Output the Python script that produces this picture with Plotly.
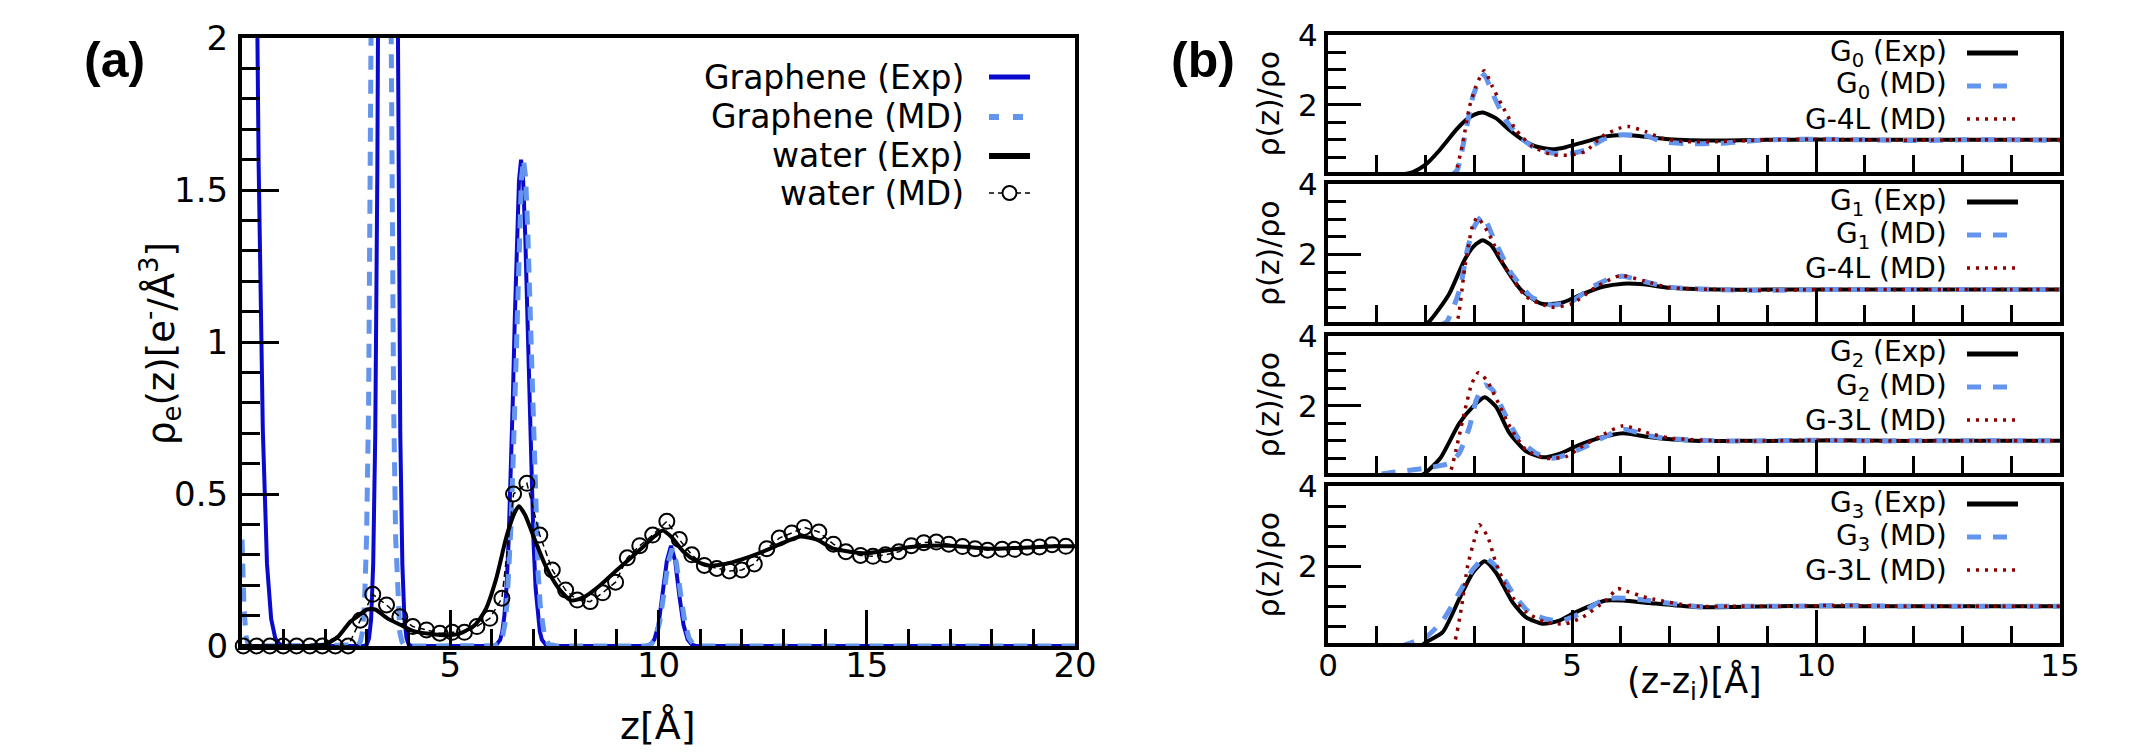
import plotly.graph_objects as go

W, H = 2129, 754
FONT = "DejaVu Sans"

# ---------------- Panel (a) data ----------------
gexp_z = [0.0, 0.1, 0.2, 0.3, 0.4, 0.5, 0.6, 0.7, 0.8, 0.9, 1.0, 1.1,
          2.9, 2.95, 3.0, 3.05, 3.1, 3.15, 3.2, 3.25, 3.3, 3.35, 3.4, 3.45, 3.5,
          3.55, 3.6, 3.65, 3.7, 3.75, 3.8, 3.85, 3.9, 3.95, 4.0, 4.05, 4.1,
          6.0, 6.1, 6.2, 6.25, 6.3, 6.35, 6.4, 6.45, 6.5, 6.55, 6.6, 6.65, 6.7,
          6.75, 6.8, 6.85, 6.9, 6.95, 7.0, 7.05, 7.1, 7.15, 7.2, 7.3, 7.4,
          9.7, 9.8, 9.9, 10.0, 10.1, 10.2, 10.3, 10.4, 10.5, 10.6, 10.7, 10.8, 10.9, 20.0]
gexp_y = [7.84, 6.68, 4.85, 3.0, 1.58, 0.71, 0.27, 0.089, 0.025, 0.006, 0.001, 0.0,
          0.0, 0.0013, 0.006, 0.025, 0.088, 0.27, 0.70, 1.57, 3.06, 5.14, 7.44, 9.29, 10.0,
          9.29, 7.44, 5.14, 3.06, 1.57, 0.70, 0.27, 0.088, 0.025, 0.006, 0.0013, 0.0,
          0.0, 0.003, 0.021, 0.048, 0.10, 0.19, 0.34, 0.54, 0.80, 1.08, 1.35, 1.53, 1.6,
          1.53, 1.35, 1.08, 0.80, 0.54, 0.34, 0.19, 0.10, 0.048, 0.021, 0.003, 0.0,
          0.0, 0.0044, 0.021, 0.07, 0.165, 0.28, 0.33, 0.28, 0.165, 0.07, 0.021, 0.0044, 0.0, 0.0]

gmd_z = [0.0, 0.05, 0.1, 0.15, 0.2,
         2.74, 2.79, 2.84, 2.89, 2.94, 2.99, 3.04, 3.09, 3.14, 3.19, 3.24, 3.29, 3.34,
         3.39, 3.44, 3.49, 3.54, 3.59, 3.64, 3.69, 3.74, 3.79, 3.84, 3.89, 3.94, 4.0,
         6.06, 6.16, 6.26, 6.31, 6.36, 6.41, 6.46, 6.51, 6.56, 6.61, 6.66, 6.71, 6.76,
         6.81, 6.86, 6.91, 6.96, 7.01, 7.06, 7.11, 7.16, 7.21, 7.26, 7.36, 7.46, 7.55,
         9.73, 9.83, 9.93, 10.03, 10.13, 10.23, 10.33, 10.43, 10.53, 10.63, 10.73, 10.83, 10.93, 20.0]
gmd_y = [0.35, 0.12, 0.03, 0.005, 0.0,
         0.0008, 0.0035, 0.0136, 0.045, 0.135, 0.352, 0.80, 1.62, 2.88, 4.5, 6.2, 7.5, 8.0,
         7.5, 6.2, 4.5, 2.88, 1.62, 0.80, 0.352, 0.135, 0.045, 0.0136, 0.0035, 0.0008, 0.0,
         0.001, 0.006, 0.034, 0.070, 0.135, 0.24, 0.40, 0.61, 0.86, 1.13, 1.37, 1.54, 1.6,
         1.54, 1.37, 1.13, 0.86, 0.61, 0.40, 0.24, 0.135, 0.070, 0.034, 0.006, 0.001, 0.0,
         0.0004, 0.0067, 0.027, 0.080, 0.172, 0.274, 0.32, 0.274, 0.172, 0.080, 0.027, 0.0067, 0.0004, 0.0]

wexp_z = [0.0, 1.5, 2.0, 2.3, 2.6, 2.8, 3.0, 3.2, 3.5, 3.8, 4.1, 4.5, 5.0, 5.3, 5.6, 5.85,
          6.1, 6.35, 6.55, 6.65, 6.8, 7.0, 7.3, 7.6, 7.9, 8.2, 8.6, 9.0, 9.5, 9.9, 10.1,
          10.3, 10.6, 10.9, 11.2, 11.6, 12.0, 12.5, 13.0, 13.4, 13.8, 14.2, 14.6, 15.0,
          15.5, 16.0, 16.5, 17.0, 17.5, 18.0, 18.5, 19.0, 19.5, 20.0]
wexp_y = [0.0, 0.0, 0.005, 0.03, 0.08, 0.10, 0.12, 0.12, 0.09, 0.07, 0.05, 0.04, 0.035, 0.045, 0.07, 0.12,
          0.22, 0.36, 0.44, 0.46, 0.43, 0.36, 0.26, 0.19, 0.15, 0.16, 0.20, 0.25, 0.31, 0.36, 0.38,
          0.36, 0.31, 0.28, 0.265, 0.27, 0.285, 0.31, 0.34, 0.36, 0.35, 0.32, 0.31, 0.305,
          0.315, 0.325, 0.33, 0.33, 0.325, 0.32, 0.322, 0.325, 0.328, 0.328]

wmd_z = [0.03, 0.35, 0.67, 0.99, 1.31, 1.63, 1.93, 2.24, 2.55, 2.84, 3.14, 3.47, 3.79, 4.10,
         4.43, 4.75, 5.05, 5.34, 5.64, 5.95, 6.24, 6.52, 6.84, 7.15, 7.45, 7.77, 8.05, 8.36,
         8.66, 8.97, 9.25, 9.55, 9.86, 10.2, 10.5, 10.8, 11.1, 11.4, 11.7, 12.0, 12.3, 12.6,
         12.9, 13.2, 13.5, 13.85, 14.2, 14.5, 14.85, 15.15, 15.45, 15.77, 16.07, 16.37,
         16.67, 16.97, 17.3, 17.6, 17.9, 18.25, 18.55, 18.85, 19.15, 19.45, 19.78]
wmd_y = [0, 0, 0, 0, 0, 0, 0, 0, 0, 0.085, 0.17, 0.135, 0.096, 0.064,
         0.053, 0.042, 0.045, 0.045, 0.064, 0.091, 0.157, 0.50, 0.535, 0.365, 0.25, 0.184, 0.151, 0.146,
         0.175, 0.21, 0.29, 0.33, 0.365, 0.41, 0.35, 0.30, 0.265, 0.255, 0.247, 0.25, 0.27, 0.32,
         0.355, 0.372, 0.39, 0.375, 0.335, 0.31, 0.298, 0.295, 0.30, 0.31, 0.33, 0.34,
         0.342, 0.335, 0.327, 0.32, 0.315, 0.318, 0.318, 0.325, 0.326, 0.333, 0.328]

# ---------------- Panel (b) data ----------------
g0exp_z = [1.5, 1.74, 2.0, 2.29, 2.63, 2.83, 3.0, 3.17, 3.44, 3.71, 3.99, 4.26, 4.6, 4.87, 5.28, 5.69,
           6.03, 6.37, 6.98, 8.0, 9.0, 10.0, 11.0, 12.0, 13.0, 14.0, 15.0]
g0exp_y = [0.0, 0.08, 0.29, 0.71, 1.29, 1.57, 1.72, 1.78, 1.62, 1.29, 1.0, 0.81, 0.73, 0.79, 0.95, 1.1,
           1.14, 1.11, 1.02, 0.98, 1.0, 1.01, 1.0, 1.0, 1.0, 1.0, 1.0]
g0md_z = [2.55, 2.65, 2.83, 2.97, 3.1, 3.2, 3.37, 3.64, 3.92, 4.19, 4.6, 4.94, 5.28, 5.62, 5.96,
          6.23, 6.57, 6.84, 7.32, 8.0, 8.5, 9.0, 10.0, 11.0, 12.0, 13.0, 14.0, 15.0]
g0md_y = [0.0, 0.14, 1.29, 2.24, 2.71, 2.86, 2.33, 1.57, 1.10, 0.81, 0.62, 0.60, 0.71, 1.0, 1.14,
          1.14, 1.1, 0.95, 0.89, 0.9, 0.95, 1.0, 1.02, 1.0, 0.98, 1.0, 1.0, 0.98]
g04l_z = [2.55, 2.62, 2.76, 2.9, 3.03, 3.2, 3.37, 3.58, 3.85, 4.19, 4.6, 5.0, 5.28, 5.62, 5.96,
          6.16, 6.5, 6.84, 7.3, 8.0, 9.0, 10.0, 11.0, 12.0, 13.0, 14.0, 15.0]
g04l_y = [0.0, 0.1, 0.9, 1.95, 2.52, 2.98, 2.52, 1.95, 1.29, 0.81, 0.57, 0.57, 0.67, 1.1, 1.33,
          1.38, 1.24, 1.05, 0.95, 0.95, 1.0, 1.02, 1.0, 0.99, 1.0, 1.0, 1.0]

g1exp_z = [1.9, 2.06, 2.48, 2.8, 3.0, 3.17, 3.35, 3.53, 3.95, 4.37, 4.79, 5.21, 5.63, 6.05, 6.47,
           7.0, 8.0, 9.0, 10.0, 11.0, 12.0, 13.0, 14.0, 15.0]
g1exp_y = [0.0, 0.08, 0.87, 1.85, 2.25, 2.4, 2.25, 1.85, 1.0, 0.6, 0.63, 0.87, 1.08, 1.17, 1.15,
           1.05, 1.0, 1.0, 1.0, 1.0, 1.0, 1.0, 1.0, 1.0]
g1md_z = [2.3, 2.43, 2.7, 2.85, 3.0, 3.17, 3.38, 3.74, 4.16, 4.58, 5.0, 5.42, 5.84, 6.05, 6.57,
          7.0, 8.0, 9.0, 10.0, 11.0, 12.0, 13.0, 14.0, 15.0]
g1md_y = [0.0, 0.08, 1.0, 2.1, 2.8, 3.1, 2.5, 1.5, 0.8, 0.56, 0.67, 1.08, 1.35, 1.38, 1.2,
          1.07, 1.0, 0.98, 1.0, 1.0, 1.0, 1.0, 1.0, 1.0]
g14l_z = [2.55, 2.64, 2.8, 2.96, 3.06, 3.27, 3.64, 4.06, 4.58, 5.0, 5.52, 5.99, 6.47, 7.0, 8.0,
          9.0, 10.0, 11.0, 12.0, 13.0, 14.0, 15.0]
g14l_y = [0.0, 0.08, 1.6, 2.8, 3.05, 2.65, 1.6, 0.8, 0.5, 0.6, 1.1, 1.4, 1.25, 1.06, 1.0,
          0.98, 1.0, 1.0, 1.0, 1.0, 1.0, 1.0]

g2exp_z = [1.9, 2.01, 2.3, 2.69, 2.97, 3.21, 3.44, 3.72, 4.06, 4.4, 4.74, 5.08, 5.56, 6.05, 6.57,
           7.5, 8.5, 9.5, 10.5, 11.5, 12.5, 13.5, 14.5, 15.0]
g2exp_y = [0.0, 0.1, 0.5, 1.5, 1.98, 2.25, 1.98, 1.22, 0.7, 0.53, 0.63, 0.84, 1.08, 1.22, 1.11,
           1.0, 1.0, 1.0, 1.02, 1.0, 1.0, 1.0, 1.0, 1.0]
g2md_z = [1.1, 1.33, 2.01, 2.49, 2.69, 2.9, 3.04, 3.21, 3.37, 3.65, 3.92, 4.26, 4.6, 4.94, 5.28,
          5.62, 6.05, 6.57, 7.0, 8.0, 9.0, 10.0, 11.0, 12.0, 13.0, 14.0, 15.0]
g2md_y = [0.05, 0.1, 0.22, 0.36, 0.65, 1.4, 2.17, 2.6, 2.46, 1.7, 1.03, 0.65, 0.5, 0.63, 0.84,
          1.08, 1.33, 1.15, 1.06, 1.0, 1.0, 1.02, 1.0, 1.0, 1.0, 1.0, 1.0]
g23l_z = [2.4, 2.5, 2.67, 2.81, 2.95, 3.08, 3.25, 3.46, 3.73, 4.06, 4.47, 4.88, 5.15, 5.56, 6.05,
          6.57, 7.0, 8.0, 9.0, 10.0, 11.0, 12.0, 13.0, 14.0, 15.0]
g23l_y = [0.0, 0.1, 1.03, 1.9, 2.65, 2.95, 2.74, 2.17, 1.4, 0.74, 0.5, 0.55, 0.79, 1.12, 1.43,
          1.22, 1.08, 1.0, 1.0, 1.02, 1.0, 1.0, 1.0, 1.0, 1.0]

g3exp_z = [1.9, 2.01, 2.35, 2.69, 2.97, 3.21, 3.44, 3.78, 4.06, 4.4, 4.74, 5.08, 5.69, 6.05, 6.57,
           7.5, 8.0, 9.1, 10.0, 11.0, 12.0, 13.0, 14.0, 15.0]
g3exp_y = [0.0, 0.1, 0.35, 1.18, 1.84, 2.12, 1.84, 1.1, 0.72, 0.56, 0.64, 0.85, 1.14, 1.14, 1.08,
           0.98, 0.97, 1.0, 1.0, 1.0, 1.0, 1.0, 1.0, 1.0]
g3md_z = [1.5, 1.74, 2.01, 2.35, 2.69, 2.97, 3.21, 3.44, 3.78, 4.12, 4.46, 4.8, 5.14, 5.69, 6.05,
          6.57, 7.5, 8.5, 9.5, 10.5, 11.5, 12.5, 13.5, 14.5, 15.0]
g3md_y = [0.0, 0.1, 0.23, 0.64, 1.34, 1.92, 2.2, 2.0, 1.34, 0.85, 0.68, 0.64, 0.8, 1.18, 1.2,
          1.14, 1.0, 1.0, 1.0, 1.02, 1.0, 1.0, 1.0, 1.0, 1.0]
g33l_z = [2.5, 2.59, 2.73, 2.86, 3.0, 3.1, 3.27, 3.44, 3.71, 4.06, 4.46, 4.87, 5.21, 5.69, 5.94,
          6.05, 6.57, 7.5, 8.5, 9.5, 10.5, 11.5, 12.5, 13.5, 14.5, 15.0]
g33l_y = [0.0, 0.1, 0.93, 2.0, 2.66, 3.03, 2.74, 2.08, 1.34, 0.85, 0.6, 0.56, 0.72, 1.14, 1.44,
          1.4, 1.2, 1.0, 1.0, 1.0, 1.02, 1.0, 1.0, 1.0, 1.0, 1.0]

legend_a = ["Graphene (Exp)", "Graphene (MD)", "water (Exp)", "water (MD)"]
legend_b = [["G<sub>0</sub> (Exp)", "G<sub>0</sub> (MD)", "G-4L (MD)"],
            ["G<sub>1</sub> (Exp)", "G<sub>1</sub> (MD)", "G-4L (MD)"],
            ["G<sub>2</sub> (Exp)", "G<sub>2</sub> (MD)", "G-3L (MD)"],
            ["G<sub>3</sub> (Exp)", "G<sub>3</sub> (MD)", "G-3L (MD)"]]
panels_b = [(g0exp_z, g0exp_y, g0md_z, g0md_y, g04l_z, g04l_y),
            (g1exp_z, g1exp_y, g1md_z, g1md_y, g14l_z, g14l_y),
            (g2exp_z, g2exp_y, g2md_z, g2md_y, g23l_z, g23l_y),
            (g3exp_z, g3exp_y, g3md_z, g3md_y, g33l_z, g33l_y)]

# ---------------- styles ----------------
BLUE = "#0a0acd"
LBLUE = "#6495ed"
DRED = "#8b0000"
BLACK = "#000000"


def px(x):
    return x / W


def py(y):
    return 1 - y / H


fig = go.Figure()

# Panel (a) traces
fig.add_trace(go.Scatter(x=gexp_z, y=gexp_y, mode="lines", line=dict(color=BLUE, width=4),
                         xaxis="x", yaxis="y", showlegend=False))
fig.add_trace(go.Scatter(x=gmd_z, y=gmd_y, mode="lines",
                         line=dict(color=LBLUE, width=5, dash="14px,10px"),
                         xaxis="x", yaxis="y", showlegend=False))
fig.add_trace(go.Scatter(x=wexp_z, y=wexp_y, mode="lines", line=dict(color=BLACK, width=4, shape="spline", smoothing=0.6),
                         xaxis="x", yaxis="y", showlegend=False))
fig.add_trace(go.Scatter(x=wmd_z, y=wmd_y, mode="lines+markers",
                         line=dict(color=BLACK, width=1.5, dash="6px,4px"),
                         marker=dict(symbol="circle-open", size=15, color=BLACK, line=dict(width=2, color=BLACK)),
                         cliponaxis=False, xaxis="x", yaxis="y", showlegend=False))

# Panel (b) geometry (pixel rows of each sub panel)
b_rows = [(35, 172), (184, 322), (336, 473), (486, 643)]
bx0, bx1 = 1328, 2060

for i, (ez, ey, mz, my, lz, ly) in enumerate(panels_b):
    xa = "x%d" % (i + 2)
    ya = "y%d" % (i + 2)
    fig.add_trace(go.Scatter(x=ez, y=ey, mode="lines",
                             line=dict(color=BLACK, width=4, shape="spline", smoothing=0.6),
                             xaxis=xa, yaxis=ya, showlegend=False))
    fig.add_trace(go.Scatter(x=mz, y=my, mode="lines",
                             line=dict(color=LBLUE, width=5, dash="14px,12px", shape="spline", smoothing=0.6),
                             xaxis=xa, yaxis=ya, showlegend=False))
    fig.add_trace(go.Scatter(x=lz, y=ly, mode="lines",
                             line=dict(color=DRED, width=3.5, dash="3px,6px", shape="spline", smoothing=0.6),
                             xaxis=xa, yaxis=ya, showlegend=False))

axis_common = dict(showline=True, linecolor=BLACK, linewidth=4, mirror=True, showgrid=False,
                   zeroline=False, ticks="inside", tickcolor=BLACK, tickwidth=3, automargin=False)

layout = dict(
    width=W, height=H, margin=dict(l=0, r=0, t=0, b=0, pad=0, autoexpand=False),
    paper_bgcolor="white", plot_bgcolor="white",
    font=dict(family=FONT, color=BLACK),
    showlegend=False,
)

layout["xaxis"] = dict(axis_common, domain=[px(242), px(1075)], range=[0, 20], anchor="y",
                       tickvals=[5, 10, 15, 20], ticklen=36,
                       minor=dict(dtick=1, tick0=0, ticklen=17, ticks="inside", tickwidth=3, tickcolor=BLACK),
                       tickfont=dict(size=34, family=FONT), ticklabelstandoff=-14)
layout["yaxis"] = dict(axis_common, domain=[py(646), py(38)], range=[0, 2], anchor="x",
                       tickvals=[0, 0.5, 1, 1.5, 2], ticktext=["0", "0.5", "1", "1.5", "2"], ticklen=37,
                       minor=dict(dtick=0.1, tick0=0, ticklen=18, ticks="inside", tickwidth=3, tickcolor=BLACK),
                       tickfont=dict(size=34, family=FONT), ticklabelstandoff=3)

for i, (top, bot) in enumerate(b_rows):
    n = i + 2
    layout["xaxis%d" % n] = dict(axis_common, domain=[px(bx0), px(bx1)], range=[0, 15], anchor="y%d" % n,
                                 tickvals=[0, 5, 10, 15], ticklen=33,
                                 showticklabels=(i == 3),
                                 minor=dict(dtick=1, tick0=0, ticklen=17, ticks="inside", tickwidth=3, tickcolor=BLACK),
                                 tickfont=dict(size=31, family=FONT), ticklabelstandoff=-8)
    layout["yaxis%d" % n] = dict(axis_common, domain=[py(bot), py(top)], range=[0.08, 4], anchor="x%d" % n,
                                 tickvals=[2, 4], ticklen=33,
                                 minor=dict(dtick=0.5, tick0=0, ticklen=18, ticks="inside", tickwidth=3, tickcolor=BLACK),
                                 tickfont=dict(size=31, family=FONT), ticklabelstandoff=0)

annotations = []
shapes = []


def ann(text, x, y, size, xanchor="center", yanchor="middle", angle=0, family=FONT):
    annotations.append(dict(text=text, x=px(x), y=py(y), xref="paper", yref="paper",
                            xanchor=xanchor, yanchor=yanchor, showarrow=False, textangle=angle,
                            font=dict(size=size, family=family, color=BLACK)))


# panel labels
ann("<b>(a)</b>", 114, 60, 50, family="Liberation Sans")
ann("<b>(b)</b>", 1203, 60, 50, family="Liberation Sans")

# axis titles
ann("z[Å]", 658, 726, 38)
ann("ρ<sub>e</sub>(z)[e<sup>-</sup>/Å<sup>3</sup>]", 160, 344, 37, angle=-90)
ann("(z-z<sub>i</sub>)[Å]", 1694, 682, 35)
for top, bot in b_rows:
    ann("ρ(z)/ρo", 1268, (top + bot) / 2, 30, angle=-90)

# legend (a)
rows_a = [77, 117, 156, 193]
key_a = (989, 1030)
styles_a = [dict(color=BLUE, width=5), dict(color=LBLUE, width=6, dash="10px,14px"),
            dict(color=BLACK, width=6), dict(color=BLACK, width=1.5, dash="5px,4px")]
for txt, yy, st in zip(legend_a, rows_a, styles_a):
    ann(txt, 966, yy, 33, xanchor="right")
    shapes.append(dict(type="line", xref="paper", yref="paper", x0=px(key_a[0]), x1=px(key_a[1]),
                       y0=py(yy), y1=py(yy), line=st))
cx, cy, r = (key_a[0] + key_a[1]) / 2, rows_a[3], 7
shapes.append(dict(type="circle", xref="paper", yref="paper", x0=px(cx - r), x1=px(cx + r),
                   y0=py(cy + r), y1=py(cy - r), line=dict(color=BLACK, width=2), fillcolor="white"))

# legends (b)
key_b = (1967, 2018)
offs_b = [18, 51, 84]
styles_b = [dict(color=BLACK, width=5), dict(color=LBLUE, width=5, dash="14px,12px"),
            dict(color=DRED, width=3.5, dash="3px,6px")]
for (top, bot), names in zip(b_rows, legend_b):
    for txt, off, st in zip(names, offs_b, styles_b):
        ann(txt, 1949, top + off, 28, xanchor="right")
        shapes.append(dict(type="line", xref="paper", yref="paper", x0=px(key_b[0]), x1=px(key_b[1]),
                           y0=py(top + off), y1=py(top + off), line=st))

layout["annotations"] = annotations
layout["shapes"] = shapes
fig.update_layout(**layout)

fig.write_html("out.html", config={"displayModeBar": False},
               post_script="document.body.style.margin='0';document.body.style.overflow='hidden';")
